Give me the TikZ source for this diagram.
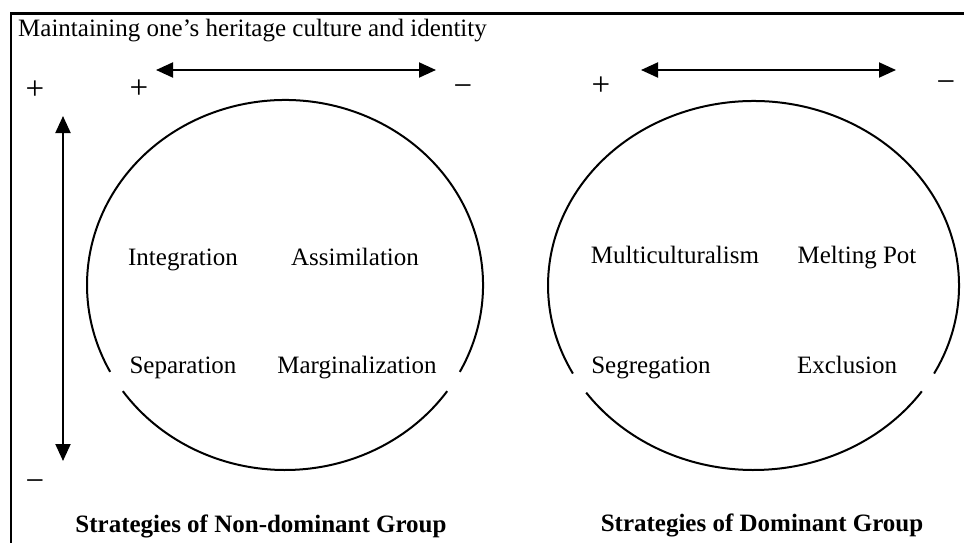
\documentclass[tikz,border=0pt]{standalone}
\usepackage{fontspec}
\setmainfont{Liberation Serif}
\usetikzlibrary{arrows.meta}
\tikzset{
  lbl/.style={anchor=base, inner sep=0pt, font=\fontsize{25}{30}\selectfont},
  ttl/.style={anchor=base, inner sep=0pt, font=\fontsize{25}{30}\selectfont\bfseries},
  sgn/.style={anchor=center, inner sep=0pt, font=\fontsize{33}{36}\selectfont},
  axis/.style={line width=2pt, {Triangle[length=17pt,width=15pt]}-{Triangle[length=17pt,width=15pt]}},
  ring/.style={line width=2pt},
  frame/.style={line width=2.2pt}
}
\begin{document}
\begin{tikzpicture}[x=1pt,y=-1pt]
\useasboundingbox (0,0) rectangle (964,543);
\fill[white] (0,0) rectangle (964,543);
% frame
\draw[frame] (11,543) -- (11,13.5) -- (964,13.5);
% title
\node[lbl, anchor=base west] (title) at (18,37) {Maintaining one’s heritage culture and identity};
% signs
\node[sgn] (pl1) at (35,90) {+};
\node[sgn] (pl2) at (139,89) {+};
\node[sgn] (mi1) at (463,91) {−};
\node[sgn] (pl3) at (601,86) {+};
\node[sgn] (mi2) at (946,87) {−};
\node[sgn] (mi3) at (35,486) {−};
% arrows
\coordinate (h1a) at (156,70); \coordinate (h1b) at (436,70);
\coordinate (h2a) at (641,70); \coordinate (h2b) at (896,70);
\coordinate (v1a) at (63,116); \coordinate (v1b) at (63,461);
\draw[axis] (h1a) -- (h1b);
\draw[axis] (h2a) -- (h2b);
\draw[axis] (v1a) -- (v1b);
% left circle: center (285,285), rx 198, ry 185
\coordinate (c1) at (285,285);
\draw[ring] (c1) ++(28:198 and 185) arc[start angle=28, end angle=-208, x radius=198, y radius=185];
\draw[ring] (c1) ++(35:198 and 185) arc[start angle=35, end angle=145, x radius=198, y radius=185];
% right circle: center (753.5,285.5), rx 205.5, ry 184.5
\coordinate (c2) at (753.5,285.5);
\draw[ring] (c2) ++(28.5:205.5 and 184.5) arc[start angle=28.5, end angle=-208.5, x radius=205.5, y radius=184.5];
\draw[ring] (c2) ++(35:205.5 and 184.5) arc[start angle=35, end angle=144.5, x radius=205.5, y radius=184.5];
% labels left
\node[lbl] (integ) at (183,265) {Integration};
\node[lbl] (assim) at (355,265) {Assimilation};
\node[lbl] (separ) at (183,373) {Separation};
\node[lbl] (margi) at (357,373) {Marginalization};
% labels right
\node[lbl] (multi) at (675,263) {Multiculturalism};
\node[lbl] (melt) at (857,263) {Melting Pot};
\node[lbl] (segr) at (651,373) {Segregation};
\node[lbl] (excl) at (847,373) {Exclusion};
% captions
\node[ttl] (cap1) at (261,532) {Strategies of Non-dominant Group};
\node[ttl] (cap2) at (762,531) {Strategies of Dominant Group};
\end{tikzpicture}
\end{document}
